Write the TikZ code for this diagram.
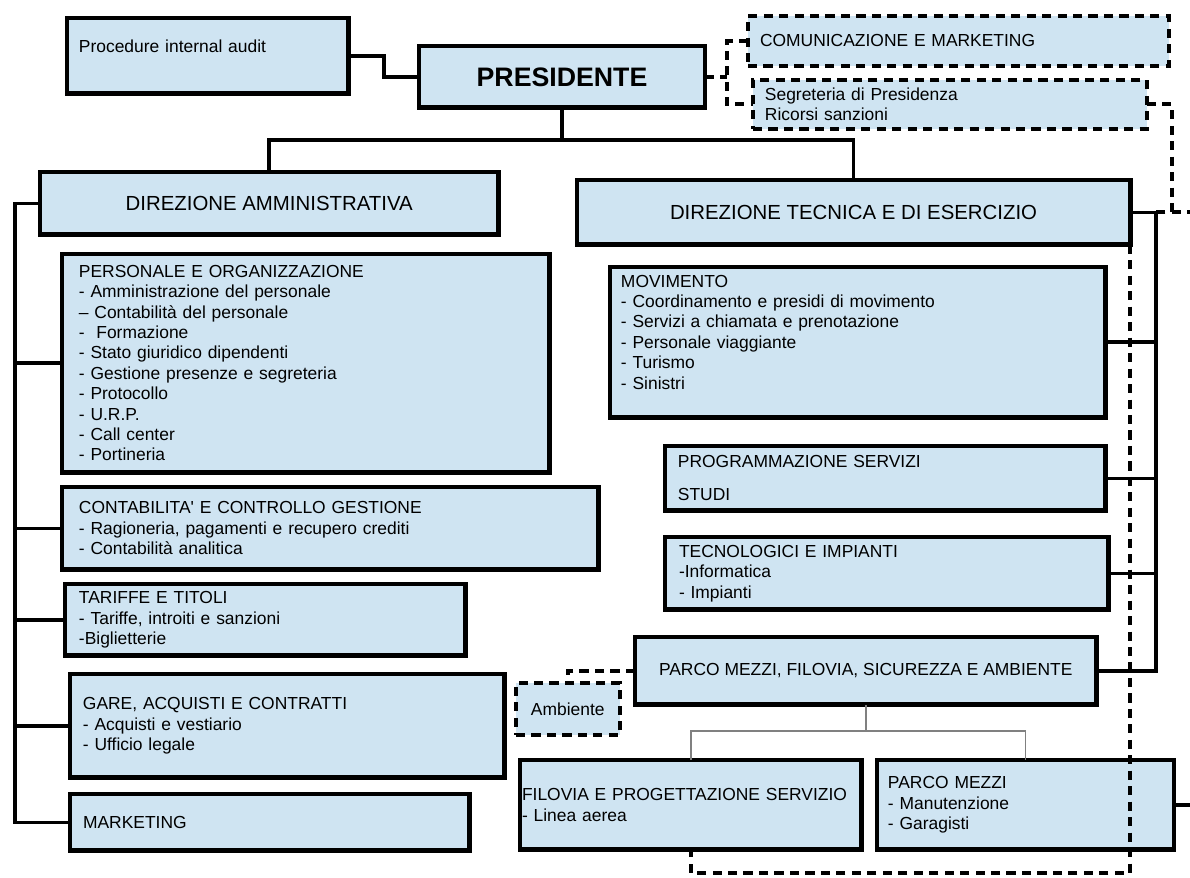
\documentclass[tikz,border=0pt]{standalone}
\usepackage{fontspec}
\setmainfont{Liberation Sans}
\usetikzlibrary{positioning}
\definecolor{unitblue}{RGB}{207,228,242}
\tikzset{
    unitbox/.style = {rectangle, draw=black, line width=3.5pt, fill=unitblue, anchor=north west, inner sep=0pt, outer sep=0pt, align=left, font=\fontsize{12.4}{14.5}\selectfont},
    headbox/.style = {unitbox, line width=3.2pt, font=\fontsize{19}{22}\selectfont\bfseries},
    dirbox/.style = {unitbox, font=\fontsize{14.5}{17}\selectfont},
    staffbox/.style = {unitbox, line width=2.8pt, dash pattern=on 6.5pt off 4.5pt},
    edgel/.style = {line width=2.6pt, black},
    edgeg/.style = {line width=1.4pt, gray},
    edged/.style = {line width=2.8pt, black, dash pattern=on 6.5pt off 4.5pt}
}
\begin{document}
\begin{tikzpicture}[x=0.025cm, y=-0.025cm]
\useasboundingbox (0,0) rectangle (1190,878);
\coordinate (eastedge) at (1190,0);
%
\node[unitbox, minimum width=200.5pt, minimum height=53.9pt, text width=183.5pt] at (67,18) (audit) {Procedure internal audit\\ \mbox{}};
\node[headbox, minimum width=203.4pt, minimum height=43.9pt] at (419,46) (pres) {PRESIDENTE};
\node[staffbox, minimum width=299.1pt, minimum height=35.4pt, text width=282.0pt] at (748,16) (comm) {COMUNICAZIONE E MARKETING};
\node[staffbox, minimum width=279.9pt, minimum height=34.7pt, text width=262.9pt] at (753,80) (segr) {Segreteria di Presidenza\\Ricorsi sanzioni};
\node[dirbox, minimum width=326.0pt, minimum height=44.6pt] at (40,172) (diramm) {DIREZIONE AMMINISTRATIVA};
\node[dirbox, minimum width=393.3pt, minimum height=46.1pt] at (577,180) (dirtec) {DIREZIONE TECNICA E DI ESERCIZIO};
%
\node[unitbox, minimum width=346.5pt, minimum height=155.2pt, text width=322.4pt] at (62,254) (pers) {PERSONALE E ORGANIZZAZIONE\\- Amministrazione del personale\\– Contabilità del personale\\-\ \ Formazione\\- Stato giuridico dipendenti\\- Gestione presenze e segreteria\\- Protocollo\\- U.R.P.\\- Call center\\- Portineria};
\node[unitbox, minimum width=381.3pt, minimum height=58.8pt, text width=357.2pt] at (62,487) (contab) {CONTABILITA\textquotesingle{} E CONTROLLO GESTIONE\\- Ragioneria, pagamenti e recupero crediti\\- Contabilità analitica};
\node[unitbox, minimum width=284.9pt, minimum height=51.0pt, text width=265.0pt] at (65,584) (tariffe) {TARIFFE E TITOLI\\- Tariffe, introiti e sanzioni\\-Biglietterie};
\node[unitbox, minimum width=309.0pt, minimum height=73.7pt, text width=290.6pt] at (70,674) (gare) {GARE, ACQUISTI E CONTRATTI\\- Acquisti e vestiario\\- Ufficio legale};
\node[unitbox, minimum width=284.2pt, minimum height=40.4pt, text width=265.7pt] at (70,794) (mkt) {MARKETING};
%
\node[unitbox, minimum width=352.2pt, minimum height=107.0pt, text width=336.6pt] at (610,267) (movim) {MOVIMENTO\\- Coordinamento e presidi di movimento\\- Servizi a chiamata e prenotazione\\- Personale viaggiante\\- Turismo\\- Sinistri\\ \mbox{}};
\node[unitbox, minimum width=313.2pt, minimum height=46.1pt, text width=294.8pt] at (665,446) (progr) {PROGRAMMAZIONE SERVIZI\\[9pt]STUDI};
\node[unitbox, minimum width=315.4pt, minimum height=51.7pt, text width=295.5pt] at (665,537) (tecno) {TECNOLOGICI E IMPIANTI\\-Informatica\\- Impianti};
\node[unitbox, minimum width=328.1pt, minimum height=48.2pt] at (635,637) (parco) {PARCO MEZZI, FILOVIA, SICUREZZA E AMBIENTE};
\node[staffbox, minimum width=73.7pt, minimum height=36.9pt] at (516,683) (amb) {Ambiente};
\node[unitbox, minimum width=243.1pt, minimum height=63.8pt, text width=240.2pt] at (520,760) (filov) {\mbox{FILOVIA E PROGETTAZIONE SERVIZIO}\\- Linea aerea};
\node[unitbox, minimum width=211.2pt, minimum height=63.8pt, text width=195.6pt] at (877,760) (pmezzi) {PARCO MEZZI\\- Manutenzione\\- Garagisti};
%
\draw[edgel] (audit.east) -- ++(35,0) |- (pres.west);
\draw[edgel] (pres.south) -- ++(0,32) -| (diramm.north);
\draw[edgel] (pres.south) -- ++(0,32) -| (dirtec.north);
%
\draw[edgel] (diramm.west) -- ++(-25,0) coordinate (lbus) |- (mkt.west);
\foreach \boxname in {pers,contab,tariffe,gare}
    \draw[edgel] (\boxname.west) -- (\boxname.west -| lbus);
%
\draw[edgel] (dirtec.east) -- ++(26,0) coordinate (rbus) |- (parco.east);
\foreach \boxname in {movim,progr,tecno}
    \draw[edgel] (\boxname.east) -- (\boxname.east -| rbus);
%
\draw[edgeg] (parco.south) -- ++(0,26) coordinate (gfork) -| (filov.north);
\draw[edgeg] (gfork) -| (pmezzi.north);
\draw[edgel] (pmezzi.east) -- (pmezzi.east -| eastedge);
%
\draw[edged] (pres.east) -- ++(22,0) coordinate (staff);
\draw[edged] (comm.west) -| (staff) |- (segr.west);
\draw[edged] (segr.east) -- ++(25,0) coordinate (segrturn) |- (rbus);
\draw[edged] (segrturn |- rbus) -- (rbus -| eastedge);
\draw[edged] (parco.west) -| (amb.north);
\draw[edged] (dirtec.south east) -- ++(0,628) -| (filov.south);

\end{tikzpicture}
\end{document}
